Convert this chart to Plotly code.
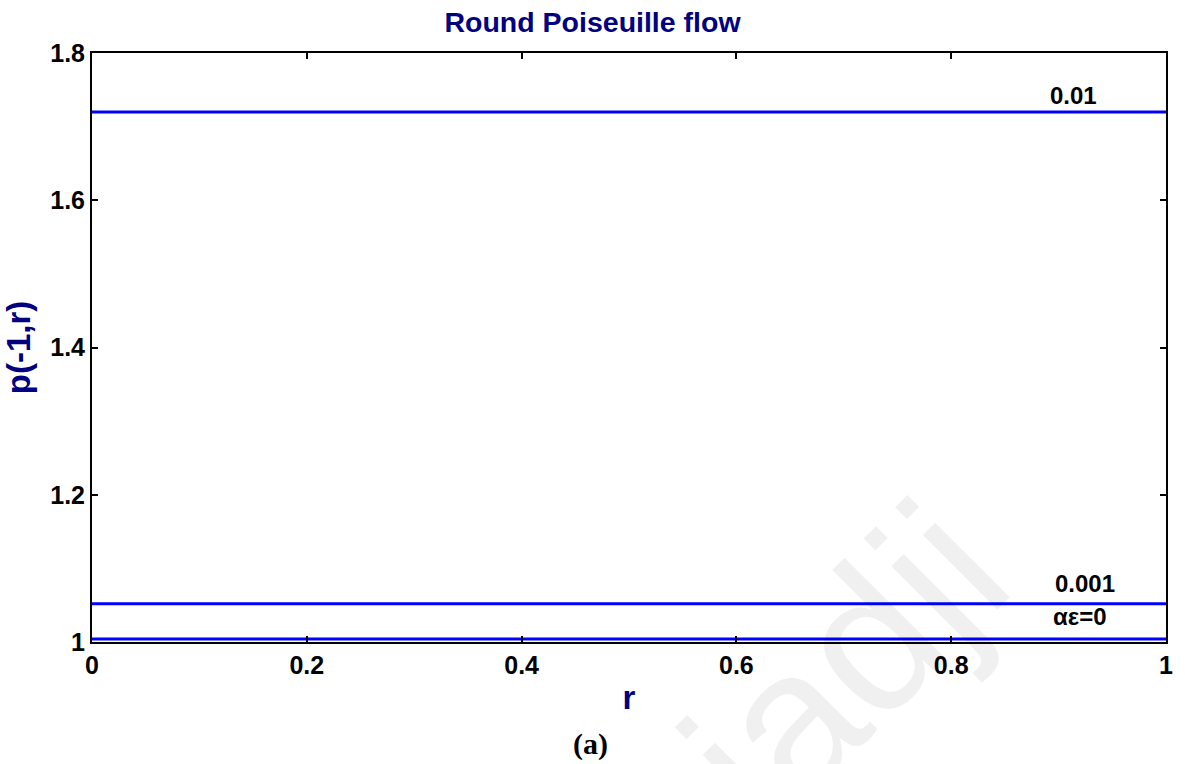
import plotly.graph_objects as go

# radial coordinate and pressure levels p(-1, r) for each value of alpha*epsilon
r = [0.0, 0.25, 0.5, 0.75, 1.0]
p_ae_001 = [1.72, 1.72, 1.72, 1.72, 1.72]
p_ae_0001 = [1.052, 1.052, 1.052, 1.052, 1.052]
p_ae_0 = [1.004, 1.004, 1.004, 1.004, 1.004]

curve_labels = ["0.01", "0.001", "αε=0"]
label_y = [1.742, 1.079, 1.034]
label_x = [0.890, 0.895, 0.893]

x_ticks = [0, 0.2, 0.4, 0.6, 0.8, 1]
x_tick_text = ["0", "0.2", "0.4", "0.6", "0.8", "1"]
y_ticks = [1, 1.2, 1.4, 1.6, 1.8]
y_tick_text = ["1", "1.2", "1.4", "1.6", "1.8"]

NAVY = "#000080"
BLUE = "#0000ff"
FONT = "Liberation Sans, Arial, sans-serif"

fig = go.Figure()
for ys in (p_ae_001, p_ae_0001, p_ae_0):
    fig.add_trace(go.Scatter(x=r, y=ys, mode="lines",
                             line=dict(color=BLUE, width=3),
                             showlegend=False, hoverinfo="skip"))

# curve labels
for txt, xx, yy in zip(curve_labels, label_x, label_y):
    fig.add_annotation(x=xx, y=yy, xref="x", yref="y", text=txt,
                       showarrow=False, xanchor="left", yanchor="middle",
                       font=dict(family=FONT, size=24, color="black", weight="bold"))

# faint watermark
fig.add_annotation(x=0.7007, y=-0.039, xref="paper", yref="paper", text="iadji",
                   showarrow=False, textangle=-45, xanchor="center", yanchor="middle",
                   font=dict(family=FONT, size=200, color="rgba(0,0,0,0.06)"))

# panel label
fig.add_annotation(x=0.4638, y=-0.173, xref="x domain", yref="paper", text="<b>(a)</b>",
                   showarrow=False, yanchor="middle", xanchor="center",
                   font=dict(family="Liberation Serif, Times New Roman, serif", size=30, color="black"))

axis_common = dict(
    showgrid=False, zeroline=False, showline=True, linecolor="black", linewidth=2,
    mirror="ticks", ticks="inside", ticklen=6, tickwidth=1.5, tickcolor="black",
    tickfont=dict(family=FONT, size=25, color="black", weight="bold"),
)

fig.update_xaxes(range=[0, 1], tickvals=x_ticks, ticktext=x_tick_text,
                 title=dict(text="r", standoff=8,
                            font=dict(family=FONT, size=33, color=NAVY, weight="bold")),
                 **axis_common)
fig.update_yaxes(range=[1, 1.8], tickvals=y_ticks, ticktext=y_tick_text,
                 title=dict(text="p(-1,r)", standoff=12,
                            font=dict(family=FONT, size=33, color=NAVY, weight="bold")),
                 **axis_common)

fig.update_layout(
    width=1185, height=764,
    margin=dict(l=92, r=17, t=53, b=122),
    paper_bgcolor="white", plot_bgcolor="white",
    title=dict(text="Round Poiseuille flow", x=0.5, xanchor="center",
               y=1 - 22 / 764, yanchor="middle", yref="container",
               font=dict(family=FONT, size=28.5, color=NAVY, weight="bold")),
)

fig.write_html("out.html")
